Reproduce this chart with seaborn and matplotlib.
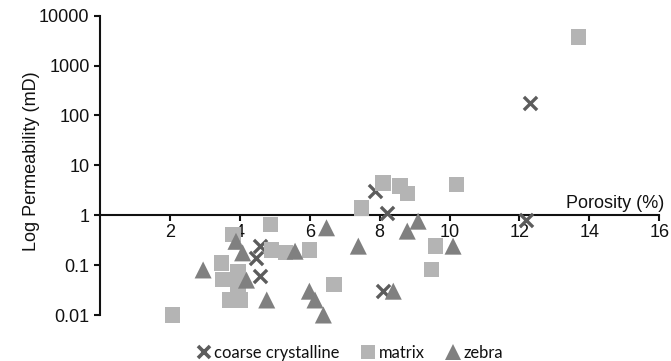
import matplotlib
matplotlib.use('Agg')
import matplotlib.pyplot as plt
import seaborn as sns

# ---- data ----
coarse_x = [4.58, 4.46, 4.58, 7.87, 8.20, 8.09, 12.20, 12.30]
coarse_y = [0.24, 0.14, 0.06, 3.0, 1.1, 0.030, 0.82, 180]

matrix_x = [2.08, 3.48, 3.50, 3.72, 3.95, 3.95, 4.02, 3.81, 4.88, 4.91, 5.30, 5.99,
            6.70, 7.48, 8.09, 8.58, 8.79, 10.20, 9.60, 9.49, 13.69]
matrix_y = [0.01, 0.11, 0.051, 0.02, 0.075, 0.041, 0.02, 0.41, 0.65, 0.20, 0.18, 0.20,
            0.041, 1.4, 4.46, 3.9, 2.7, 4.1, 0.24, 0.082, 3700]

zebra_x = [2.95, 3.89, 4.08, 4.19, 4.77, 5.58, 5.99, 6.15, 6.39, 6.48, 7.39, 8.39,
           8.79, 9.10, 10.10]
zebra_y = [0.08, 0.30, 0.176, 0.05, 0.02, 0.19, 0.03, 0.02, 0.01, 0.56, 0.24, 0.030,
           0.48, 0.76, 0.24]

y_ticks = [0.01, 0.1, 1, 10, 100, 1000, 10000]
y_tick_labels = ['0.01', '0.1', '1', '10', '100', '1000', '10000']
x_ticks = [2, 4, 6, 8, 10, 12, 14, 16]
x_tick_labels = ['2', '4', '6', '8', '10', '12', '14', '16']

series_labels = ['coarse crystalline', 'matrix', 'zebra']

# ---- style ----
sns.set_theme(style='white')
plt.rcParams['font.family'] = ['Liberation Sans', 'DejaVu Sans']

W, H = 671, 361
fig = plt.figure(figsize=(W / 100, H / 100), dpi=100)
ax = fig.add_axes([100 / W, 1 - 315 / H, (659.3 - 100) / W, (315 - 15.7) / H])

c_x, c_sq, c_tri = '#5c5c5c', '#b4b4b4', '#808080'

sns.scatterplot(x=coarse_x, y=coarse_y, marker='x', s=90, color=c_x,
                linewidth=2.4, ax=ax, zorder=3, legend=False, clip_on=False)
sns.scatterplot(x=matrix_x, y=matrix_y, marker='s', s=125, color=c_sq,
                edgecolor='none', ax=ax, zorder=4, legend=False, clip_on=False)
sns.scatterplot(x=zebra_x, y=zebra_y, marker='^', s=150, color=c_tri,
                edgecolor='none', ax=ax, zorder=5, legend=False, clip_on=False)

ax.set_yscale('log')
ax.set_xlim(0, 16)
ax.set_ylim(0.01, 10000)
ax.set_yticks(y_ticks)
ax.set_yticklabels(y_tick_labels)
ax.minorticks_off()
ax.set_xticks(x_ticks)
ax.set_xticklabels(x_tick_labels)
ax.set_xlabel('')
ax.set_ylabel('')

for s in ['top', 'right']:
    ax.spines[s].set_visible(False)
ax.spines['bottom'].set_position(('data', 1))
for s in ['left', 'bottom']:
    ax.spines[s].set_color('#111111')
    ax.spines[s].set_linewidth(1.5)

ax.tick_params(axis='both', which='both', direction='out', length=4.5, width=1.5,
               color='#111111', labelsize=13, labelcolor='#111111', pad=3)
ax.tick_params(axis='x', bottom=True, pad=2)
ax.tick_params(axis='y', left=True)
ax.set_facecolor('white')

fig.text(664 / W, 1 - 208.5 / H, 'Porosity (%)', ha='right', va='baseline',
         fontsize=13, color='#111111')
fig.text(32 / W, 1 - 161 / H, 'Log Permeability (mD)', rotation=90,
         ha='center', va='center', fontsize=13, color='#111111')

handles = [
    plt.Line2D([], [], marker='x', linestyle='none', color=c_x, markersize=8.5,
               markeredgewidth=2.6),
    plt.Line2D([], [], marker='s', linestyle='none', color=c_sq, markersize=10.5,
               markeredgewidth=0),
    plt.Line2D([], [], marker='^', linestyle='none', color=c_tri, markersize=11,
               markeredgewidth=0),
]
leg = fig.legend(handles, series_labels, ncol=3, loc='center',
                 bbox_to_anchor=(350 / W, 1 - 353 / H), frameon=False,
                 prop={'family': 'Lato', 'size': 11.9}, handlelength=0.8,
                 handletextpad=0.25, columnspacing=1.3, borderpad=0)
for t in leg.get_texts():
    t.set_color('#111111')

fig.savefig('out.png', dpi=100, facecolor='white')
